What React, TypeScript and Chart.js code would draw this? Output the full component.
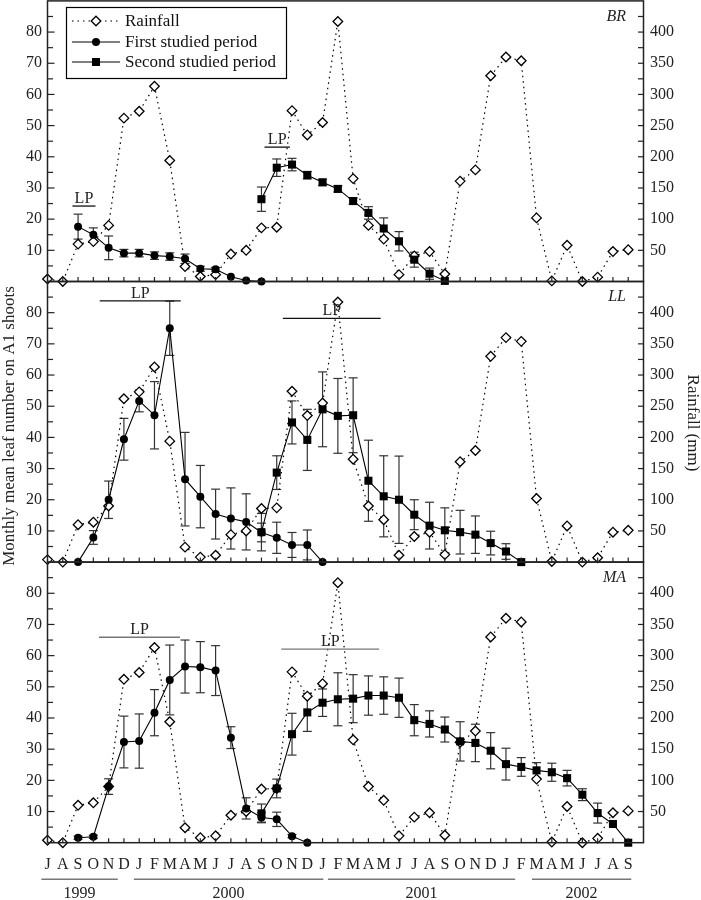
import React, { useEffect, useRef } from 'react';
import { Chart, registerables } from 'chart.js';

Chart.register(...registerables);

const FONT = '"Liberation Serif", "Times New Roman", Times, serif';

// ---------- data ----------
const MONTHS = ['J','A','S','O','N','D','J','F','M','A','M','J','J','A','S','O','N','D','J','F','M','A','M','J','J','A','S','O','N','D','J','F','M','A','M','J','J','A','S'];
const YEARS = ['1999', '2000', '2001', '2002'];
const YEAR_FROM = [-0.4, 5.65, 18.35, 31.7];
const YEAR_TO = [4.6, 18.05, 30.6, 38.2];

const RAINFALL = [4, 0, 60, 64, 90, 262, 273, 313, 194, 24, 8, 11, 44, 50, 86, 87, 274, 235, 255, 417, 165, 90, 68, 11, 41, 48, 12, 161, 179, 330, 360, 354, 102, 1, 58, 0, 7, 48, 51];

const BR_FIRST_START = 2;
const BR_FIRST = [17.6, 15.0, 10.8, 9.1, 9.1, 8.3, 8.0, 7.3, 4.1, 3.9, 1.5, 0.3, 0];
const BR_FIRST_ERR = [4.0, 2.2, 3.8, 1.2, 1.2, 1.2, 1.2, 1.5, 0.8, 0.6, 0, 0, 0];
const BR_SECOND_START = 14;
const BR_SECOND = [26.4, 36.5, 37.5, 34.1, 31.8, 29.7, 25.8, 22.0, 17.0, 12.9, 7.0, 2.5, 0.2];
const BR_SECOND_ERR = [3.9, 2.8, 2.0, 1.2, 1.0, 1.0, 1.0, 2.0, 3.4, 3.1, 2.4, 1.8, 0];

const LL_FIRST_START = 2;
const LL_FIRST = [0, 7.9, 20.0, 39.4, 51.7, 47.1, 75.0, 26.6, 21.0, 15.4, 14.0, 12.9, 9.5, 7.8, 5.5, 5.5, 0];
const LL_FIRST_ERR = [0, 2.2, 6.0, 6.7, 3.5, 10.8, 8.7, 15.0, 10.0, 8.0, 9.8, 9.0, 3.0, 5.0, 4.0, 4.8, 0];
const LL_SECOND_START = 14;
const LL_SECOND = [9.6, 28.7, 44.8, 39.2, 49.0, 46.9, 47.1, 26.1, 21.1, 20.0, 15.2, 11.7, 10.2, 9.6, 8.8, 6.1, 3.4, 0];
const LL_SECOND_ERR = [6.0, 5.4, 6.9, 9.8, 12.0, 12.0, 12.0, 13.0, 13.0, 14.0, 4.8, 7.5, 7.2, 7.0, 6.0, 3.8, 2.5, 0];

const MA_FIRST_START = 2;
const MA_FIRST = [1.6, 1.9, 18.0, 32.3, 32.6, 41.7, 52.2, 56.5, 56.3, 55.2, 33.7, 11.0, 8.1, 7.5, 2.1, 0];
const MA_FIRST_ERR = [0.5, 0.5, 2.5, 8.3, 8.7, 7.4, 11.2, 8.5, 8.2, 8.0, 3.5, 3.4, 1.5, 2.3, 0.5, 0];
const MA_SECOND_START = 14;
const MA_SECOND = [9.4, 17.4, 34.8, 41.8, 44.9, 46.0, 46.2, 47.2, 47.2, 46.5, 39.3, 38.1, 36.3, 32.5, 32.0, 29.5, 25.2, 24.3, 23.2, 22.6, 20.7, 15.4, 9.5, 6.0, 0];
const MA_SECOND_ERR = [3.0, 3.0, 6.7, 6.1, 4.4, 8.5, 7.7, 6.3, 6.0, 6.3, 5.0, 4.2, 4.0, 6.3, 6.0, 5.8, 5.1, 3.0, 2.5, 2.9, 2.5, 1.9, 3.2, 0, 0];

// leafing periods: [from month index, to month index, level]
const BR_LP = [[1.63, 3.14, 24.2], [14.2, 15.86, 43.1]];
const LL_LP = [[3.42, 8.72, 83.8], [15.4, 21.8, 78.2]];
const MA_LP = [[3.37, 8.67, 65.9], [15.3, 21.7, 62.1]];

const PANEL_NAMES = ['BR', 'LL', 'MA'];
const LEGEND_LABELS = ['Rainfall', 'First studied period', 'Second studied period'];
const Y_TITLE = 'Monthly mean leaf number on A1 shoots';
const Y2_TITLE = 'Rainfall (mm)';

// ---------- panels ----------
type Series = { start: number; values: number[]; errors: number[] };
type Panel = { name: string; first: Series; second: Series; lp: number[][]; lpColor: string };

const PANELS: Panel[] = [
  { name: PANEL_NAMES[0], first: { start: BR_FIRST_START, values: BR_FIRST, errors: BR_FIRST_ERR }, second: { start: BR_SECOND_START, values: BR_SECOND, errors: BR_SECOND_ERR }, lp: BR_LP, lpColor: '#111' },
  { name: PANEL_NAMES[1], first: { start: LL_FIRST_START, values: LL_FIRST, errors: LL_FIRST_ERR }, second: { start: LL_SECOND_START, values: LL_SECOND, errors: LL_SECOND_ERR }, lp: LL_LP, lpColor: '#111' },
  { name: PANEL_NAMES[2], first: { start: MA_FIRST_START, values: MA_FIRST, errors: MA_FIRST_ERR }, second: { start: MA_SECOND_START, values: MA_SECOND, errors: MA_SECOND_ERR }, lp: MA_LP, lpColor: '#777' },
];

const PANEL_H = 280.6;
const CANVASES = [
  { top: -10, height: 302, padTop: 10.9 },
  { top: 271, height: 302, padTop: 10.5 },
  { top: 552, height: 348, padTop: 10.1 },
];
const X_AXIS_H = 57.3;

function line(ctx: CanvasRenderingContext2D, x1: number, y1: number, x2: number, y2: number) {
  ctx.beginPath();
  ctx.moveTo(x1, y1);
  ctx.lineTo(x2, y2);
  ctx.stroke();
}

function marker(ctx: CanvasRenderingContext2D, kind: number, x: number, y: number) {
  ctx.save();
  if (kind === 0) {
    const r = 4.8;
    ctx.beginPath();
    ctx.moveTo(x, y - r);
    ctx.lineTo(x + r, y);
    ctx.lineTo(x, y + r);
    ctx.lineTo(x - r, y);
    ctx.closePath();
    ctx.fillStyle = '#fff';
    ctx.fill();
    ctx.lineWidth = 1.3;
    ctx.strokeStyle = '#000';
    ctx.stroke();
  } else if (kind === 1) {
    ctx.beginPath();
    ctx.arc(x, y, 4, 0, Math.PI * 2);
    ctx.fillStyle = '#000';
    ctx.fill();
  } else {
    ctx.fillStyle = '#000';
    ctx.fillRect(x - 4, y - 4, 8, 8);
  }
  ctx.restore();
}

function makePlugin(panel: Panel, idx: number) {
  return {
    id: 'panelDecor' + idx,
    beforeDatasetsDraw(chart: any) {
      const ctx: CanvasRenderingContext2D = chart.ctx;
      const xs = chart.scales.x;
      const ys = chart.scales.y;
      ctx.save();
      ctx.strokeStyle = '#333';
      ctx.lineWidth = 1.2;
      for (const s of [panel.first, panel.second]) {
        s.values.forEach((v, k) => {
          const e = s.errors[k];
          if (!e) return;
          const x = xs.getPixelForValue(s.start + k);
          const y1 = ys.getPixelForValue(v + e);
          const y2 = ys.getPixelForValue(v - e);
          line(ctx, x, y1, x, y2);
          line(ctx, x - 4.5, y1, x + 4.5, y1);
          line(ctx, x - 4.5, y2, x + 4.5, y2);
        });
      }
      ctx.restore();
    },
    afterDraw(chart: any) {
      const ctx: CanvasRenderingContext2D = chart.ctx;
      const xs = chart.scales.x;
      const ys = chart.scales.y;
      const yr = chart.scales.yR;
      const { left, right, top, bottom } = chart.chartArea;
      ctx.save();
      // frame
      ctx.strokeStyle = '#222';
      ctx.lineWidth = 1.5;
      ctx.strokeRect(left, top, right - left, bottom - top);
      // inward ticks
      ctx.lineWidth = 1.2;
      for (let v = 5; v < 90; v += 5) {
        const y = ys.getPixelForValue(v);
        line(ctx, left, y, left + (v % 10 === 0 ? 7 : 5.5), y);
      }
      for (let v = 25; v < 450; v += 25) {
        const y = yr.getPixelForValue(v);
        line(ctx, right - 5.5, y, right, y);
      }
      for (let i = 1; i < MONTHS.length; i++) {
        const x = xs.getPixelForValue(i);
        line(ctx, x, bottom, x, bottom - 4.5);
      }
      // LP bars
      ctx.font = `16px ${FONT}`;
      ctx.textAlign = 'center';
      ctx.textBaseline = 'alphabetic';
      ctx.strokeStyle = panel.lpColor;
      ctx.fillStyle = '#222';
      ctx.lineWidth = 1.3;
      for (const [from, to, lvl] of panel.lp) {
        const x1 = xs.getPixelForValue(from);
        const x2 = xs.getPixelForValue(to);
        const y = ys.getPixelForValue(lvl);
        line(ctx, x1, y, x2, y);
        ctx.fillText('LP', (x1 + x2) / 2, y - 3);
      }
      // panel name
      ctx.font = `italic 16px ${FONT}`;
      ctx.textAlign = 'right';
      ctx.textBaseline = 'middle';
      ctx.fillStyle = '#222';
      ctx.fillText(panel.name, right - 17.5, top + 15.5);

      if (idx === 0) {
        const bx = left + 19;
        const by = top + 6.6;
        ctx.strokeStyle = '#000';
        ctx.lineWidth = 1.2;
        ctx.strokeRect(bx, by, 220, 71);
        const ly = [by + 13.5, by + 34.5, by + 54.5];
        ctx.font = `17px ${FONT}`;
        ctx.textAlign = 'left';
        ctx.textBaseline = 'middle';
        LEGEND_LABELS.forEach((lab, k) => {
          ctx.save();
          ctx.strokeStyle = '#000';
          ctx.lineWidth = 1.1;
          if (k === 0) ctx.setLineDash([1.5, 4]);
          line(ctx, bx + 5.5, ly[k], bx + 53.5, ly[k]);
          ctx.restore();
          marker(ctx, k, bx + 29.5, ly[k]);
          ctx.fillStyle = '#111';
          ctx.fillText(lab, bx + 58.5, ly[k] + 1);
        });
      }
      if (idx === 1) {
        ctx.font = `17px ${FONT}`;
        ctx.textAlign = 'center';
        ctx.textBaseline = 'middle';
        ctx.fillStyle = '#222';
        ctx.save();
        ctx.translate(9.5, top + 144.5);
        ctx.rotate(-Math.PI / 2);
        ctx.fillText(Y_TITLE, 0, 0);
        ctx.restore();
        ctx.save();
        ctx.translate(692.5, top + 141.5);
        ctx.rotate(Math.PI / 2);
        ctx.fillText(Y2_TITLE, 0, 0);
        ctx.restore();
      }
      if (idx === 2) {
        ctx.strokeStyle = '#777';
        ctx.lineWidth = 1.5;
        ctx.font = `16px ${FONT}`;
        ctx.textAlign = 'center';
        ctx.textBaseline = 'middle';
        ctx.fillStyle = '#222';
        YEARS.forEach((yy, k) => {
          const x1 = xs.getPixelForValue(YEAR_FROM[k]);
          const x2 = xs.getPixelForValue(YEAR_TO[k]);
          line(ctx, x1, bottom + 36.5, x2, bottom + 36.5);
          ctx.fillText(yy, (x1 + x2) / 2, bottom + 51);
        });
      }
      ctx.restore();
    },
  };
}

function buildConfig(panel: Panel, idx: number): any {
  const c = CANVASES[idx];
  const showX = idx === 2;
  const padBottom = showX ? 0 : c.height - c.padTop - PANEL_H;
  const toPts = (s: Series) => s.values.map((v, k) => ({ x: s.start + k, y: v }));
  const noPad = (s: any) => { s.paddingTop = 0; s.paddingBottom = 0; };
  return {
    type: 'line',
    data: {
      datasets: [
        {
          label: LEGEND_LABELS[1],
          data: toPts(panel.first),
          yAxisID: 'y',
          borderColor: '#000',
          borderWidth: 1.1,
          pointStyle: 'circle',
          pointRadius: 4,
          pointBackgroundColor: '#000',
          pointBorderColor: '#000',
          pointBorderWidth: 0,
          tension: 0,
          clip: false,
        },
        {
          label: LEGEND_LABELS[2],
          data: toPts(panel.second),
          yAxisID: 'y',
          borderColor: '#000',
          borderWidth: 1.1,
          pointStyle: 'rect',
          pointRadius: 5.7,
          pointBackgroundColor: '#000',
          pointBorderColor: '#000',
          pointBorderWidth: 0,
          tension: 0,
          clip: false,
        },
        {
          label: LEGEND_LABELS[0],
          data: RAINFALL.map((v, i) => ({ x: i, y: v })),
          yAxisID: 'yR',
          borderColor: '#000',
          borderWidth: 1.2,
          borderDash: [1.5, 4],
          pointStyle: 'rectRot',
          pointRadius: 4.8,
          pointBackgroundColor: '#fff',
          pointBorderColor: '#000',
          pointBorderWidth: 1.3,
          tension: 0,
          clip: false,
        },
      ],
    },
    options: {
      responsive: false,
      maintainAspectRatio: false,
      animation: false,
      events: [],
      layout: { padding: { top: c.padTop, bottom: padBottom, left: 0, right: 0 } },
      plugins: { legend: { display: false }, tooltip: { enabled: false } },
      scales: {
        x: {
          type: 'linear',
          min: 0,
          max: 39,
          display: showX,
          grid: { display: false, drawTicks: false },
          border: { display: false },
          ticks: {
            stepSize: 1,
            autoSkip: false,
            maxRotation: 0,
            minRotation: 0,
            padding: 12,
            color: '#222',
            font: { family: FONT, size: 16 },
            callback: (v: number) => MONTHS[Math.round(v)] ?? null,
          },
          afterFit: (s: any) => {
            s.paddingLeft = 0;
            s.paddingRight = 0;
            if (showX) s.height = X_AXIS_H;
          },
        },
        y: {
          type: 'linear',
          position: 'left',
          min: 0,
          max: 90,
          grid: { display: false, drawTicks: false },
          border: { display: false },
          ticks: {
            stepSize: 10,
            padding: 5.5,
            color: '#222',
            font: { family: FONT, size: 16 },
            callback: (v: number) => (v >= 10 && v <= 80 ? String(v) : null),
          },
          afterFit: (s: any) => { s.width = 47.5; noPad(s); },
        },
        yR: {
          type: 'linear',
          position: 'right',
          min: 0,
          max: 450,
          grid: { display: false, drawTicks: false },
          border: { display: false },
          ticks: {
            stepSize: 50,
            padding: 6.5,
            color: '#222',
            font: { family: FONT, size: 16 },
            callback: (v: number) => (v >= 50 && v <= 400 ? String(v) : null),
          },
          afterFit: (s: any) => { s.width = 57.5; noPad(s); },
        },
      },
    },
    plugins: [makePlugin(panel, idx)],
  };
}

export default function App() {
  const r0 = useRef<HTMLCanvasElement>(null);
  const r1 = useRef<HTMLCanvasElement>(null);
  const r2 = useRef<HTMLCanvasElement>(null);

  useEffect(() => {
    const refs = [r0, r1, r2];
    const charts = refs.map((r, i) => new Chart(r.current as HTMLCanvasElement, buildConfig(PANELS[i], i)));
    return () => charts.forEach((c) => c.destroy());
  }, []);

  const refs = [r0, r1, r2];
  return (
    <div style={{ position: 'absolute', left: 0, top: 0, width: 701, height: 900, background: '#fff', overflow: 'hidden' }}>
      {CANVASES.map((c, i) => (
        <canvas
          key={i}
          ref={refs[i]}
          width={701}
          height={c.height}
          style={{ position: 'absolute', left: 0, top: c.top, width: 701, height: c.height, display: 'block' }}
        />
      ))}
    </div>
  );
}
